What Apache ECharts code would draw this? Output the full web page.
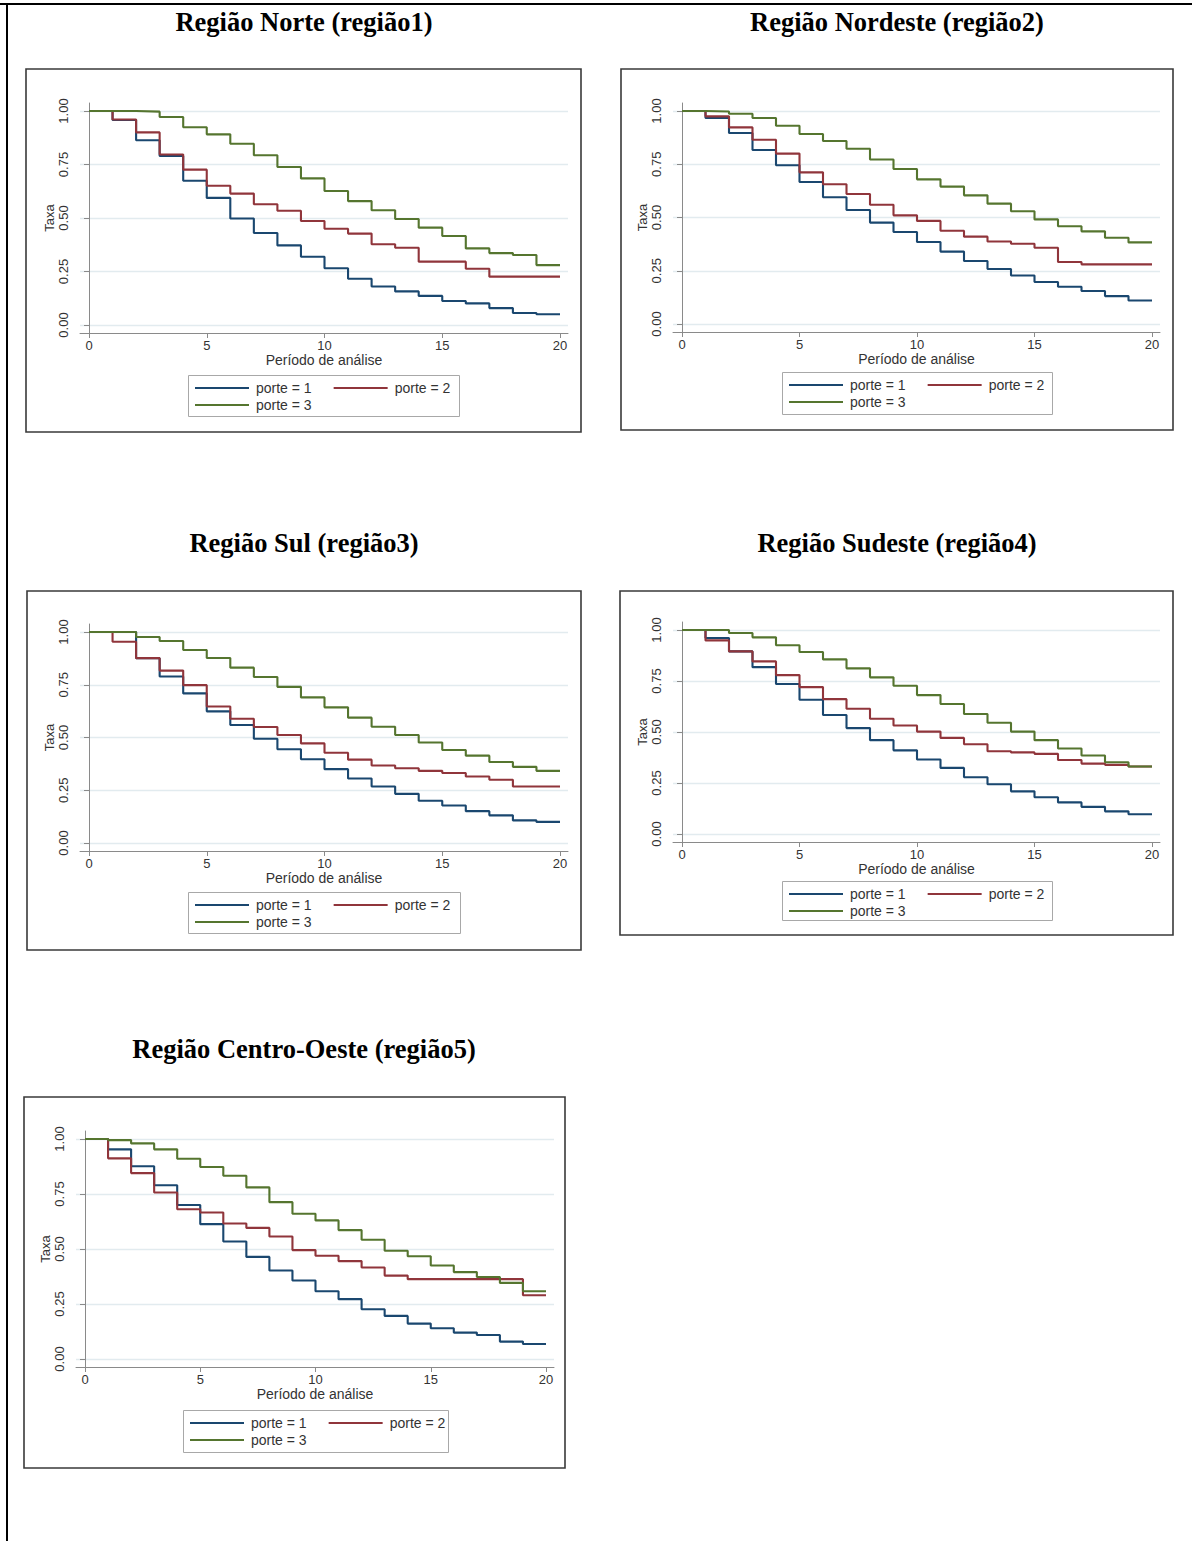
<!DOCTYPE html>
<html>
<head>
<meta charset="utf-8">
<script src="https://cdn.jsdelivr.net/npm/echarts@6/dist/echarts.min.js"></script>
<style>
html,body{margin:0;padding:0;background:#ffffff;}
#chart{width:1192px;height:1541px;}
</style>
</head>
<body>
<div id="chart"></div>
<script>
// ---------- data ----------
const periods = [0,1,2,3,4,5,6,7,8,9,10,11,12,13,14,15,16,17,18,19,20];
const xTickValues = [0,5,10,15,20];
const yTickValues = [0,0.25,0.5,0.75,1];
const seriesNames = ['porte = 1','porte = 2','porte = 3'];
const regionTitles = ['Região Norte (região1)','Região Nordeste (região2)','Região Sul (região3)','Região Sudeste (região4)','Região Centro-Oeste (região5)'];
const xAxisTitle = 'Período de análise';
const yAxisTitle = 'Taxa';

const norte_porte1 = [1.00,0.958,0.863,0.790,0.674,0.594,0.498,0.430,0.372,0.319,0.265,0.216,0.180,0.157,0.136,0.112,0.101,0.079,0.056,0.050,0.050];
const norte_porte2 = [1.00,0.960,0.900,0.797,0.726,0.651,0.614,0.564,0.534,0.486,0.450,0.427,0.377,0.361,0.296,0.296,0.263,0.226,0.226,0.226,0.226];
const norte_porte3 = [1.00,1.00,0.997,0.972,0.924,0.891,0.847,0.793,0.738,0.685,0.626,0.579,0.536,0.495,0.455,0.416,0.358,0.336,0.327,0.280,0.280];

const nordeste_porte1 = [1.00,0.967,0.897,0.817,0.745,0.667,0.595,0.535,0.476,0.432,0.385,0.340,0.296,0.258,0.228,0.197,0.175,0.155,0.131,0.110,0.110];
const nordeste_porte2 = [1.00,0.975,0.923,0.865,0.800,0.712,0.656,0.610,0.560,0.510,0.484,0.438,0.410,0.387,0.377,0.358,0.291,0.280,0.280,0.280,0.280];
const nordeste_porte3 = [1.00,0.998,0.987,0.967,0.931,0.892,0.859,0.823,0.772,0.728,0.679,0.645,0.604,0.565,0.529,0.491,0.459,0.435,0.405,0.383,0.383];

const sul_porte1 = [1.00,1.00,0.876,0.789,0.709,0.624,0.559,0.494,0.444,0.397,0.350,0.306,0.268,0.233,0.200,0.178,0.151,0.131,0.107,0.100,0.100];
const sul_porte2 = [1.00,0.954,0.876,0.817,0.748,0.647,0.589,0.550,0.512,0.472,0.428,0.395,0.367,0.354,0.342,0.332,0.315,0.300,0.268,0.268,0.268];
const sul_porte3 = [1.00,1.00,0.976,0.957,0.915,0.877,0.831,0.787,0.740,0.690,0.643,0.594,0.551,0.512,0.476,0.441,0.414,0.384,0.361,0.342,0.342];

const sudeste_porte1 = [1.00,0.961,0.895,0.818,0.735,0.658,0.583,0.519,0.460,0.410,0.365,0.324,0.278,0.244,0.209,0.180,0.155,0.133,0.111,0.097,0.097];
const sudeste_porte2 = [1.00,0.949,0.895,0.846,0.779,0.720,0.661,0.614,0.565,0.532,0.502,0.471,0.440,0.406,0.400,0.393,0.363,0.345,0.339,0.331,0.331];
const sudeste_porte3 = [1.00,1.00,0.985,0.964,0.925,0.892,0.856,0.812,0.768,0.727,0.681,0.637,0.588,0.545,0.502,0.460,0.419,0.385,0.352,0.331,0.331];

const centrooeste_porte1 = [1.00,0.953,0.876,0.790,0.700,0.613,0.534,0.464,0.402,0.357,0.308,0.272,0.226,0.196,0.161,0.140,0.120,0.109,0.079,0.068,0.068];
const centrooeste_porte2 = [1.00,0.912,0.845,0.757,0.681,0.666,0.616,0.596,0.557,0.495,0.469,0.445,0.416,0.379,0.363,0.363,0.363,0.363,0.363,0.290,0.290];
const centrooeste_porte3 = [1.00,0.995,0.980,0.953,0.910,0.873,0.833,0.780,0.713,0.660,0.630,0.586,0.542,0.492,0.467,0.425,0.395,0.373,0.346,0.308,0.308];

const regionSeries = [
  [norte_porte1, norte_porte2, norte_porte3],
  [nordeste_porte1, nordeste_porte2, nordeste_porte3],
  [sul_porte1, sul_porte2, sul_porte3],
  [sudeste_porte1, sudeste_porte2, sudeste_porte3],
  [centrooeste_porte1, centrooeste_porte2, centrooeste_porte3]
];

// ---------- layout (pixels) ----------
const layouts = [
  {frame:[26,69,581,432],  axisX:80,  x0:89,  x20:560,  y1:111,  y0:325,  legend:[188,375,459,416],   titleX:304, titleY:22},
  {frame:[621,69,1173,430],axisX:673, x0:682, x20:1152, y1:111,  y0:324,  legend:[782,372,1052,414],  titleX:897, titleY:22},
  {frame:[27,591,581,950], axisX:80,  x0:89,  x20:560,  y1:632,  y0:843,  legend:[188,892,460,933],   titleX:304, titleY:543},
  {frame:[620,591,1173,935],axisX:673,x0:682, x20:1152, y1:630,  y0:834,  legend:[782,881,1052,920],  titleX:897, titleY:543},
  {frame:[24,1097,565,1468],axisX:76, x0:85,  x20:546,  y1:1139, y0:1359, legend:[183,1410,448,1452], titleX:304, titleY:1049}
];

const colors = ['#1a476f','#90353b','#55752f'];
const textColor = '#333333';
const axisGray = '#8a8a8a';
const gridColor = '#e2ebef';
const sansFont = '"Liberation Sans", Arial, sans-serif';
const serifFont = '"Liberation Serif", "Times New Roman", serif';

const chart = echarts.init(document.getElementById('chart'), null, {renderer:'svg'});

const grids = [], xAxes = [], yAxes = [], series = [], legends = [], graphics = [];

// page borders
graphics.push({type:'rect', shape:{x:0, y:3, width:1192, height:2}, style:{fill:'#000'}, silent:true});
graphics.push({type:'rect', shape:{x:6, y:3, width:2, height:1538}, style:{fill:'#000'}, silent:true});

layouts.forEach((L, i) => {
  const pad = 8;
  const pxX = (L.x20 - L.x0) / 20;
  const pxY = (L.y0 - L.y1);
  const right = L.x20 + pad;
  const top = L.y1 - pad;
  const bottom = L.y0 + pad;
  grids.push({left:L.axisX, top:top, width:right - L.axisX, height:bottom - top, outerBoundsMode:'none', containLabel:false});
  xAxes.push({
    type:'value', gridIndex:i,
    min: -(L.x0 - L.axisX)/pxX, max: 20 + pad/pxX,
    name: xAxisTitle, nameLocation:'middle', nameGap:20,
    nameTextStyle:{fontFamily:sansFont, fontSize:14, color:textColor},
    axisLine:{show:true, onZero:false, lineStyle:{color:axisGray, width:1}},
    axisTick:{show:true, length:5, lineStyle:{color:axisGray}, customValues:xTickValues},
    axisLabel:{show:true, margin:6, fontFamily:sansFont, fontSize:13, color:textColor, customValues:xTickValues, formatter:v => String(v)},
    splitLine:{show:false}
  });
  yAxes.push({
    type:'value', gridIndex:i,
    min: -pad/pxY, max: 1 + pad/pxY,
    name: yAxisTitle, nameLocation:'middle', nameGap:24, nameRotate:90,
    nameTextStyle:{fontFamily:sansFont, fontSize:13, color:textColor},
    axisLine:{show:true, lineStyle:{color:axisGray, width:1}},
    axisTick:{show:true, length:5, lineStyle:{color:axisGray}, customValues:yTickValues},
    axisLabel:{show:true, rotate:90, margin:10, fontFamily:sansFont, fontSize:13, color:textColor, customValues:yTickValues, formatter:v => v.toFixed(2)},
    splitLine:{show:true, lineStyle:{color:gridColor, width:1.3}}
  });
  regionSeries[i].forEach((vals, k) => {
    series.push({
      type:'line', name:seriesNames[k], xAxisIndex:i, yAxisIndex:i,
      step:'end', symbol:'none', showSymbol:false, silent:true,
      lineStyle:{color:colors[k], width:2.1},
      itemStyle:{color:colors[k]},
      data: periods.map((p, j) => [p, vals[j]])
    });
  });
  // legend (two rows)
  const lx = L.legend[0] + 7;
  const ly = L.legend[1];
  const legendCommon = {icon:'rect', itemWidth:54, itemHeight:2, itemGap:22, padding:0, orient:'horizontal',
    textStyle:{fontFamily:sansFont, fontSize:14, color:textColor, padding:[0,0,0,2]}, selectedMode:false};
  legends.push(Object.assign({}, legendCommon, {left:lx, top:ly + 12 - 6, data:[seriesNames[0], seriesNames[1]]}));
  legends.push(Object.assign({}, legendCommon, {left:lx, top:ly + 29 - 6, data:[seriesNames[2]]}));
  // legend box
  graphics.push({type:'rect', shape:{x:L.legend[0]+0.5, y:L.legend[1]+0.5, width:L.legend[2]-L.legend[0], height:L.legend[3]-L.legend[1]},
    style:{fill:'none', stroke:'#a8a8a8', lineWidth:1}, silent:true});
  // frame
  graphics.push({type:'rect', shape:{x:L.frame[0], y:L.frame[1], width:L.frame[2]-L.frame[0], height:L.frame[3]-L.frame[1]},
    style:{fill:'none', stroke:'#3a3a3a', lineWidth:1.6}, silent:true});
  // title
  graphics.push({type:'text', x:L.titleX, y:L.titleY,
    style:{text:regionTitles[i], font:'bold 26.5px ' + serifFont, fill:'#000', textAlign:'center', textVerticalAlign:'middle'}, silent:true});
});

chart.setOption({
  animation:false,
  backgroundColor:'#ffffff',
  grid:grids, xAxis:xAxes, yAxis:yAxes, series:series, legend:legends,
  graphic:{elements:graphics}
});
</script>
</body>
</html>
